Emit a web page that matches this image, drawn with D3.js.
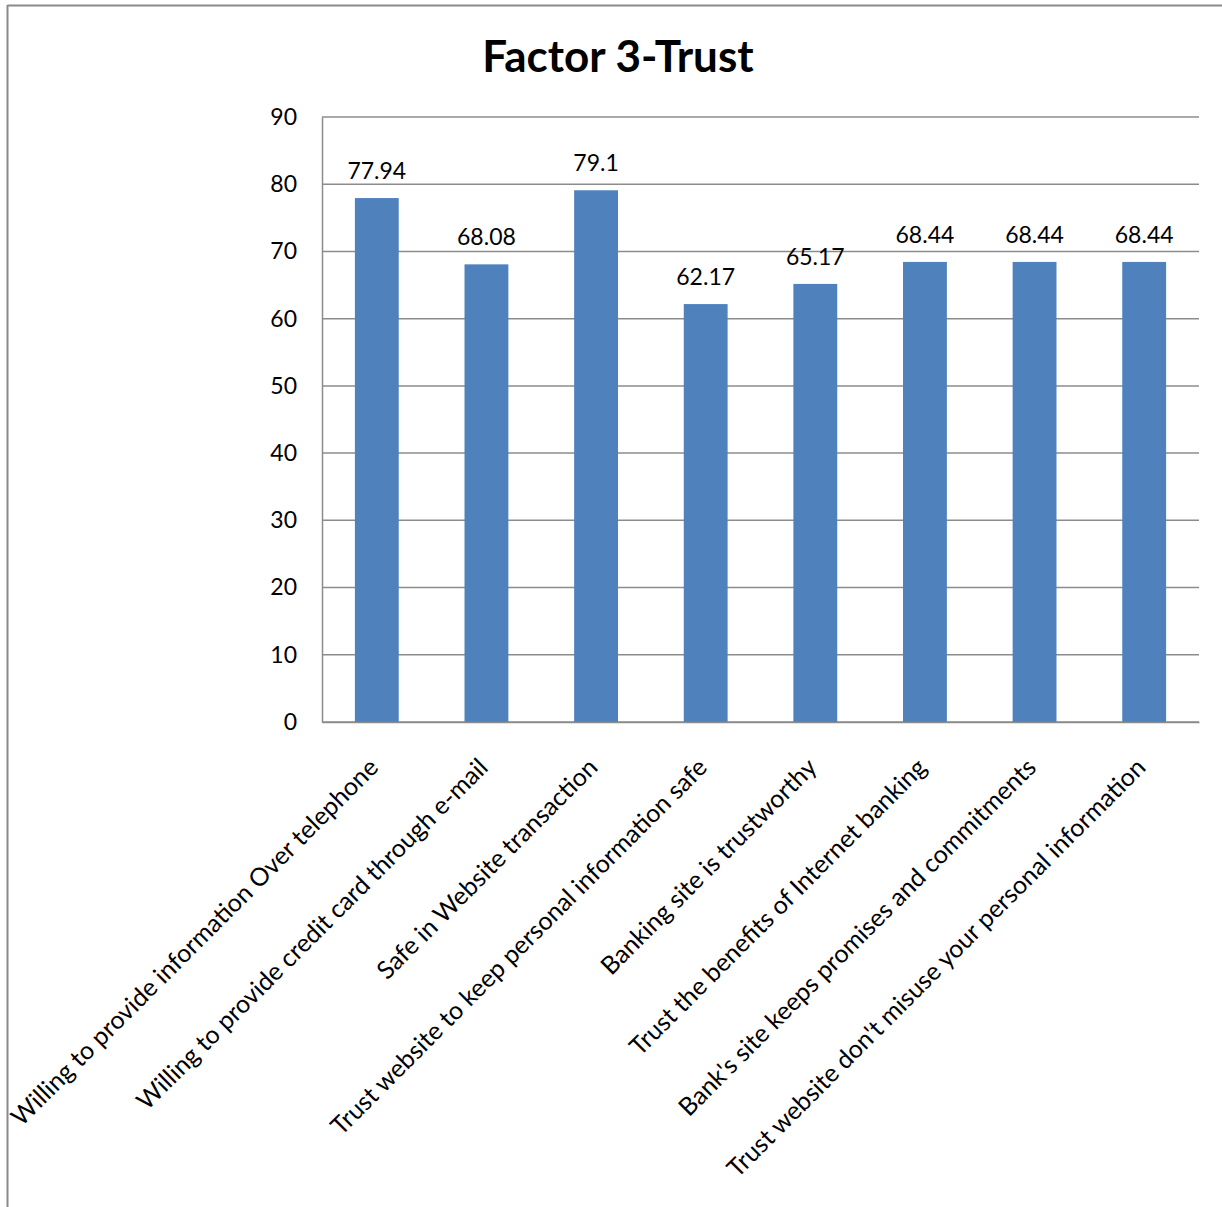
<!DOCTYPE html>
<html><head><meta charset="utf-8">
<script src="https://cdn.jsdelivr.net/npm/d3@7"></script>
<style>body{margin:0;background:#fff}</style>
</head><body>
<svg id="c" width="1222" height="1207"></svg>
<script>
const categories = [
  "Willing to provide information Over telephone",
  "Willing to provide credit card through e-mail",
  "Safe in Website transaction",
  "Trust website to keep personal information safe",
  "Banking site is trustworthy",
  "Trust the benefits of Internet banking",
  "Bank's site keeps promises and commitments",
  "Trust website don't misuse your personal information"
];
const values = [77.94, 68.08, 79.1, 62.17, 65.17, 68.44, 68.44, 68.44];
const valueLabels = ["77.94", "68.08", "79.1", "62.17", "65.17", "68.44", "68.44", "68.44"];
const yTicks = [0, 10, 20, 30, 40, 50, 60, 70, 80, 90];
const title = "Factor 3-Trust";

const svg = d3.select("#c");
const font = "Lato, 'Open Sans', sans-serif";
const m = {left: 322, right: 1199, top: 117, bottom: 722};

// outer frame
svg.append("line").attr("x1", 7.5).attr("x2", 1222).attr("y1", 5.5).attr("y2", 5.5).attr("stroke", "#8a8a8a").attr("stroke-width", 2);
svg.append("line").attr("x1", 7.5).attr("x2", 7.5).attr("y1", 5).attr("y2", 1207).attr("stroke", "#8a8a8a").attr("stroke-width", 2);

const x = d3.scaleBand().domain(categories).range([m.left, m.right]).paddingInner(0.6).paddingOuter(0.3);
const y = d3.scaleLinear().domain([0, 90]).range([m.bottom, m.top]);

// gridlines
svg.append("g").selectAll("line").data(yTicks).join("line")
  .attr("x1", m.left).attr("x2", m.right)
  .attr("y1", d => y(d)).attr("y2", d => y(d))
  .attr("stroke", "#8c8c8c").attr("stroke-width", 1.5);

// y axis
const yAxis = svg.append("g").attr("transform", `translate(${m.left},0)`)
  .call(d3.axisLeft(y).tickValues(yTicks).tickSize(0).tickPadding(25));
yAxis.select(".domain").attr("stroke", "#8c8c8c").attr("stroke-width", 1.5);
yAxis.selectAll("text").attr("font-family", font).attr("font-size", 23).attr("fill", "#000");

// bars
svg.append("g").selectAll("rect").data(values).join("rect")
  .attr("x", (d, i) => x(categories[i]))
  .attr("width", x.bandwidth())
  .attr("y", d => y(d))
  .attr("height", d => y(0) - y(d))
  .attr("fill", "#4f81bd");

// value labels
svg.append("g").selectAll("text").data(values).join("text")
  .attr("x", (d, i) => x(categories[i]) + x.bandwidth() / 2)
  .attr("y", d => y(d) - 19)
  .attr("text-anchor", "middle")
  .attr("font-family", font).attr("font-size", 23).attr("fill", "#000")
  .text((d, i) => valueLabels[i]);

// x axis
const xAxis = svg.append("g").attr("transform", `translate(0,${m.bottom})`)
  .call(d3.axisBottom(x).tickSize(0).tickPadding(0));
xAxis.select(".domain").attr("stroke", "#8c8c8c").attr("stroke-width", 1.5);
xAxis.selectAll(".tick text")
  .attr("font-family", font).attr("font-size", 25).attr("fill", "#000")
  .attr("text-anchor", "end")
  .attr("dy", 0).attr("y", 0)
  .attr("transform", "translate(3,47) rotate(-45)");

// title
svg.append("text").attr("x", 618).attr("y", 72).attr("text-anchor", "middle")
  .attr("font-family", font).attr("font-weight", "bold").attr("font-size", 44).attr("fill", "#000")
  .text(title);
</script>
</body></html>
